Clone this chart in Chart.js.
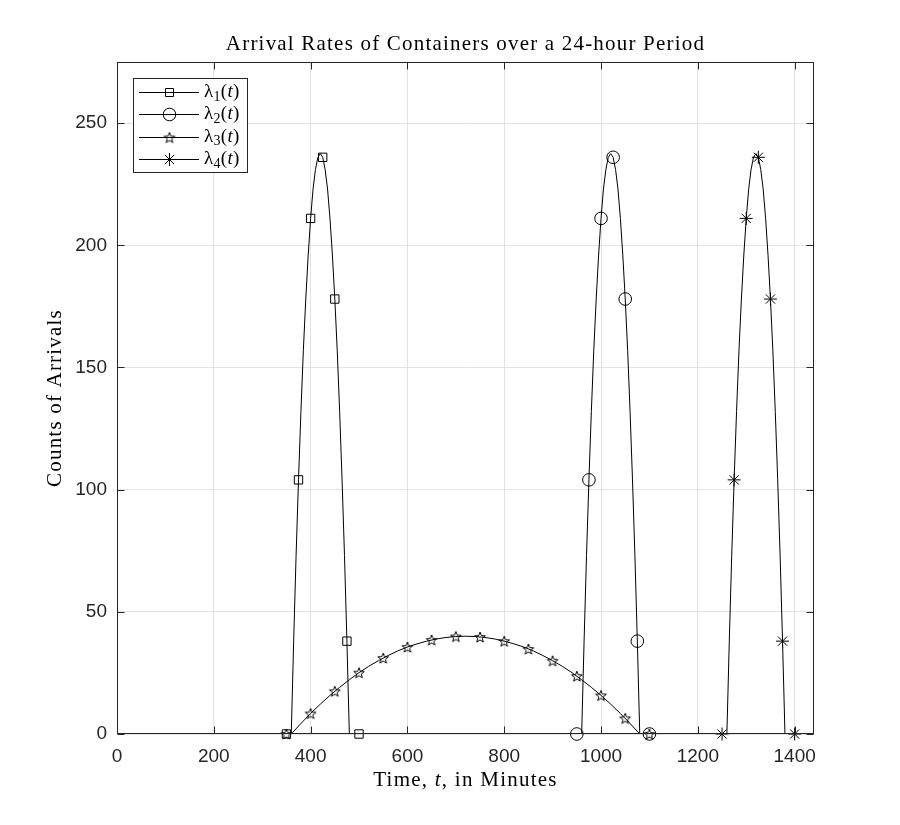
<!DOCTYPE html>
<html>
<head>
<meta charset="utf-8">
<title>Arrival Rates of Containers</title>
<script src="https://cdn.jsdelivr.net/npm/chart.js@4.4.1/dist/chart.umd.min.js"></script>
<style>
  html, body { margin: 0; padding: 0; background: #fff; }
</style>
</head>
<body>
<canvas id="arrivals" width="900" height="825"></canvas>
<script>
const xTicks = [0, 200, 400, 600, 800, 1000, 1200, 1400];
const yTicks = [0, 50, 100, 150, 200, 250];

// the three tall peaks share one shape: minutes after the peak starts -> counts
const peakOffsets = [0, 5, 10, 15, 20, 25, 30, 35, 40, 45, 50, 55, 60,
                     65, 70, 75, 80, 85, 90, 95, 100, 105, 110, 115, 120];
const peakCounts = [0, 38, 73, 104, 132, 157, 178, 196, 211, 223, 231, 236, 237.5,
                    236, 231, 223, 211, 196, 178, 157, 132, 104, 73, 38, 0];
const peakStarts = [360, 960, 1260];   // lambda1, lambda2, lambda4

// sampled markers on the peaks
const lambda1Times = [350, 375, 400, 425, 450, 475, 500];
const lambda2Times = [950, 975, 1000, 1025, 1050, 1075, 1100];
const lambda4Times = [1250, 1275, 1300, 1325, 1350, 1375, 1400];
const peakMarkerCounts = [0, 104, 211, 236, 178, 38, 0];

// lambda3, the low wide hump
const lambda3CurveTimes = [360, 380, 400, 420, 440, 460, 480, 500, 520, 540, 560, 580, 600,
                           620, 640, 660, 680, 700, 720, 740, 760, 780, 800, 820, 840, 860,
                           880, 900, 920, 940, 960, 980, 1000, 1020, 1040, 1060, 1080];
const lambda3CurveCounts = [0, 4.3, 8.4, 12.2, 15.8, 19.1, 22.2, 25.1, 27.7, 30.0, 32.1, 34.0, 35.6,
                            36.9, 38.0, 38.9, 39.5, 39.9, 40, 39.9, 39.5, 38.9, 38.0, 36.9, 35.6, 34.0,
                            32.1, 30.0, 27.7, 25.1, 22.2, 19.1, 15.8, 12.2, 8.4, 4.3, 0];
const lambda3Times = [350, 400, 450, 500, 550, 600, 650, 700, 750, 800, 850, 900, 950, 1000, 1050, 1100];
const lambda3Counts = [0, 8.4, 17.5, 25.1, 31.1, 35.6, 38.5, 39.9, 39.7, 38.0, 34.8, 30.0, 23.7, 15.8, 6.4, 0];

const ctx = document.getElementById('arrivals');

function curve(times, counts) {
    const pts = [{ x: 0, y: 0 }];
    times.forEach((t, i) => pts.push({ x: t, y: counts[i] }));
    pts.push({ x: 1440, y: 0 });
    return pts;
}
function markers(times, counts) {
    return times.map((t, i) => ({ x: t, y: counts[i] }));
}

// matlab style pentagram, no such point style in chart.js
function pentagramImage(r) {
    const c = document.createElement('canvas');
    const s = Math.ceil(r * 2 + 4);
    c.width = s; c.height = s;
    const g = c.getContext('2d');
    g.translate(s / 2, s / 2 + r * 0.1);
    g.beginPath();
    for (let i = 0; i < 10; i++) {
        const rr = i % 2 ? r * 0.42 : r;
        const a = -Math.PI / 2 + i * Math.PI / 5;
        g.lineTo(rr * Math.cos(a), rr * Math.sin(a));
    }
    g.closePath();
    g.lineWidth = 1;
    g.strokeStyle = '#000';
    g.stroke();
    return c;
}
const pentagram = pentagramImage(5.6);

const lineStyle = { showLine: true, borderColor: '#000', borderWidth: 1, pointRadius: 0, fill: false, tension: 0 };
const markStyle = { showLine: false, borderColor: '#000', backgroundColor: 'rgba(0,0,0,0)', pointBorderWidth: 1, clip: false };

const pm = peakStarts.map(start => peakOffsets.map(o => start + o));

const data = {
    datasets: [
        { label: 'l1 curve', data: curve(pm[0], peakCounts), ...lineStyle },
        { label: 'l2 curve', data: curve(pm[1], peakCounts), ...lineStyle },
        { label: 'l3 curve', data: curve(lambda3CurveTimes, lambda3CurveCounts), ...lineStyle },
        { label: 'l4 curve', data: curve(pm[2], peakCounts), ...lineStyle },
        { label: 'l1', data: markers(lambda1Times, peakMarkerCounts), ...markStyle, pointStyle: 'rect', pointRadius: 5.9 },
        { label: 'l2', data: markers(lambda2Times, peakMarkerCounts), ...markStyle, pointStyle: 'circle', pointRadius: 6.3 },
        { label: 'l3', data: markers(lambda3Times, lambda3Counts), ...markStyle, pointStyle: pentagram, pointRadius: 5.6 },
        { label: 'l4', data: markers(lambda4Times, peakMarkerCounts), ...markStyle, pointStyle: 'star', pointRadius: 6.5 },
    ]
};

const serif = "'Liberation Serif', 'Times New Roman', serif";
const sans = "'Liberation Sans', Arial, sans-serif";

// draws text made of [string, italic, sizeScale, dy] pieces
function pieces(c, parts, x, y, size, align, spacing) {
    c.letterSpacing = (spacing || 0) + 'px';
    const fontOf = p => (p[1] ? 'italic ' : '') + Math.round(size * (p[2] || 1)) + 'px ' + serif;
    let total = 0;
    parts.forEach(p => { c.font = fontOf(p); total += c.measureText(p[0]).width; });
    let cx = align === 'center' ? x - total / 2 : x;
    c.textAlign = 'left';
    c.textBaseline = 'middle';
    parts.forEach(p => {
        c.font = fontOf(p);
        c.fillText(p[0], cx, y + (p[3] || 0));
        cx += c.measureText(p[0]).width;
    });
    c.letterSpacing = '0px';
}

function legendMarker(c, kind, x, y) {
    c.beginPath();
    if (kind === 'rect') {
        c.rect(x - 4, y - 4, 8, 8);
    } else if (kind === 'circle') {
        c.arc(x, y, 6.3, 0, Math.PI * 2);
    } else if (kind === 'star') {
        const r = 6.5;
        for (let k = 0; k < 4; k++) {
            const a = k * Math.PI / 4;
            c.moveTo(x - r * Math.cos(a), y - r * Math.sin(a));
            c.lineTo(x + r * Math.cos(a), y + r * Math.sin(a));
        }
    }
    c.stroke();
    if (kind === 'penta') c.drawImage(pentagram, x - pentagram.width / 2, y - pentagram.height / 2);
}

const decor = {
    id: 'decor',
    afterDraw(chart) {
        const c = chart.ctx;
        const a = chart.chartArea;
        const sx = chart.scales.x, sy = chart.scales.y;
        const L = Math.round(a.left) + 0.5, R = Math.round(a.right) - 0.5;
        const T = Math.round(a.top) + 0.5, B = Math.round(a.bottom) - 0.5;
        c.save();
        c.strokeStyle = '#262626';
        c.lineWidth = 1;
        c.strokeRect(L, T, R - L, B - T);
        c.beginPath();
        xTicks.forEach(v => {
            const px = Math.round(sx.getPixelForValue(v)) + 0.5;
            c.moveTo(px, B); c.lineTo(px, B - 7);
            c.moveTo(px, T); c.lineTo(px, T + 7);
        });
        yTicks.forEach(v => {
            const py = Math.round(sy.getPixelForValue(v)) + 0.5;
            c.moveTo(L, py); c.lineTo(L + 7, py);
            c.moveTo(R, py); c.lineTo(R - 7, py);
        });
        c.stroke();

        c.fillStyle = '#000';
        const mid = (a.left + a.right) / 2;
        pieces(c, [['Arrival Rates of Containers over a 24-hour Period']], mid, 44, 21, 'center', 1.2);
        pieces(c, [['Time, '], ['t', true], [', in Minutes']], mid, 780, 21, 'center', 1.25);
        c.save();
        c.translate(55, (a.top + a.bottom) / 2);
        c.rotate(-Math.PI / 2);
        pieces(c, [['Counts of Arrivals']], 0, 0, 21, 'center', 1.2);
        c.restore();

        // legend
        c.fillStyle = '#fff';
        c.fillRect(133.5, 78.5, 114, 94);
        c.strokeStyle = '#262626';
        c.strokeRect(133.5, 78.5, 114, 94);
        const kinds = ['rect', 'circle', 'penta', 'star'];
        c.strokeStyle = '#000';
        c.fillStyle = '#000';
        kinds.forEach((k, i) => {
            const ry = 92 + i * 22.4;
            c.beginPath();
            c.moveTo(139, Math.round(ry) + 0.5);
            c.lineTo(199, Math.round(ry) + 0.5);
            c.stroke();
            legendMarker(c, k, 169.5, Math.round(ry) + 0.5);
            pieces(c, [['\u03bb', false, 1, 0], [String(i + 1), false, 0.72, 5], ['(', false, 1, 0], ['t', true, 1, 0], [')', false, 1, 0]], 204, ry, 19, 'left', 0.3);
        });
        c.restore();
    }
};

new Chart(ctx, {
    type: 'scatter',
    data: data,
    plugins: [decor],
    options: {
        responsive: false,
        animation: false,
        layout: { padding: { left: 0, right: 86, top: 62, bottom: 0 } },
        plugins: {
            legend: { display: false },
            title: { display: false },
            tooltip: { enabled: false }
        },
        scales: {
            x: {
                type: 'linear',
                min: 0,
                max: 1440,
                afterBuildTicks: s => { s.ticks = xTicks.map(v => ({ value: v })); },
                afterFit: s => { s.height = 91; },
                ticks: {
                    color: '#262626',
                    padding: 11,
                    maxRotation: 0,
                    callback: v => String(v),
                    font: { family: sans, size: 19 }
                },
                grid: { color: '#e2e2e2', drawTicks: false },
                border: { display: false }
            },
            y: {
                type: 'linear',
                min: 0,
                max: 275,
                afterBuildTicks: s => { s.ticks = yTicks.map(v => ({ value: v })); },
                afterFit: s => { s.width = 117; },
                ticks: {
                    color: '#262626',
                    padding: 10,
                    callback: v => String(v),
                    font: { family: sans, size: 19 }
                },
                grid: { color: '#e2e2e2', drawTicks: false },
                border: { display: false }
            }
        }
    }
});
</script>
</body>
</html>
